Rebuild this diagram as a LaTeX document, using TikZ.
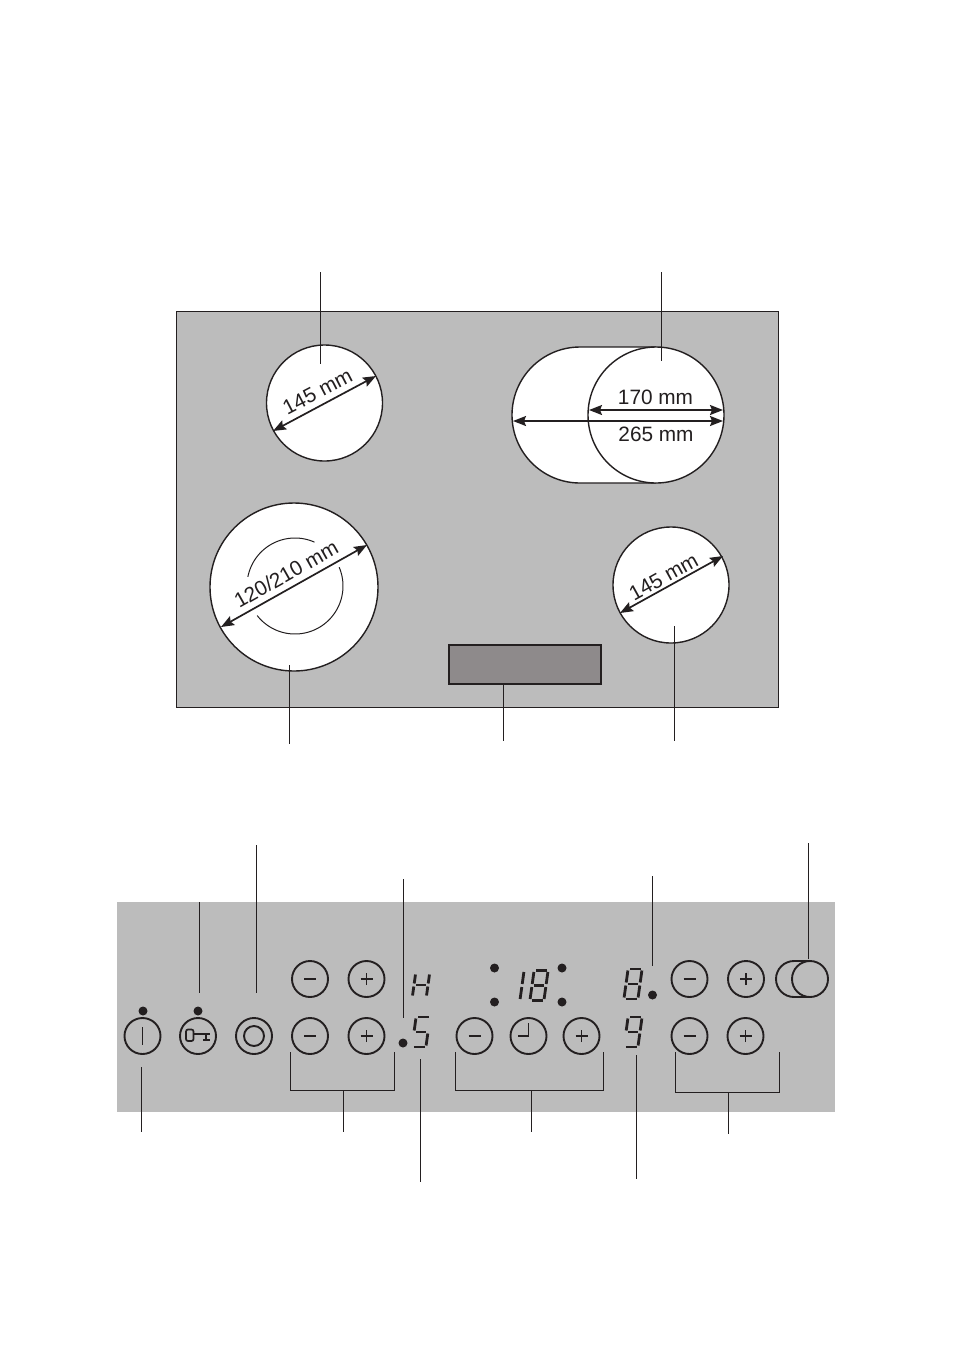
\documentclass[tikz,border=0pt]{standalone}
\usepackage{fontspec}
\setmainfont{Liberation Sans}
\usetikzlibrary{arrows.meta}
\definecolor{panel}{HTML}{BCBCBC}
\definecolor{ink}{HTML}{231F20}
\definecolor{window}{HTML}{8E8A8B}
\tikzset{
  lead/.style={draw=ink,line width=1.15pt},
  zone/.style={draw=ink,line width=1.4pt,fill=white},
  dim/.style={draw=ink,line width=1.7pt,{Stealth[length=13pt,width=10pt,inset=2pt]}-{Stealth[length=13pt,width=10pt,inset=2pt]}},
  dimtext/.style={inner sep=0pt,text=ink,font=\fontsize{20.8pt}{22pt}\selectfont},
  btn/.style={circle,draw=ink,line width=1.9pt,minimum size=36pt,inner sep=0pt},
  glyph/.style={draw=ink,line width=1.9pt},
  seg/.style={draw=ink,line width=2.8pt},
  lamp/.style={circle,fill=ink,minimum size=9pt,inner sep=0pt}
}
% cx, cy, half height, segments
\newcommand{\sevenseg}[4]{%
  \begin{scope}[shift={(#1,#2)},xslant=0.14]
    \def\hh{#3}
    \foreach \s in {#4}{%
      \if\s a\draw[seg] (-5,-\hh) -- (6,-\hh);\fi
      \if\s b\draw[seg] (7,-\hh+1.5) -- (7,-1.5);\fi
      \if\s c\draw[seg] (7,1.5) -- (7,\hh-1.5);\fi
      \if\s d\draw[seg] (-5,\hh) -- (6,\hh);\fi
      \if\s e\draw[seg] (-7,1.5) -- (-7,\hh-1.5);\fi
      \if\s f\draw[seg] (-7,-\hh+1.5) -- (-7,-1.5);\fi
      \if\s g\draw[seg] (-5,0) -- (5,0);\fi
    }
  \end{scope}}
\begin{document}
\begin{tikzpicture}[x=1pt,y=-1pt]
\useasboundingbox (0,0) rectangle (954,1350);
\fill[white] (0,0) rectangle (954,1350);
% hob
\draw[draw=ink,line width=0.9pt,fill=panel] (176,311) rectangle (778,707);
\node[draw=ink,line width=1.3pt,fill=window,minimum width=152pt,minimum height=39pt,inner sep=0pt] (win) at (525,664.5) {};
% zones
\node[zone,circle,minimum size=116pt,inner sep=0pt] (tl) at (324.5,403) {};
\draw[zone] (656,347) -- (580,347) arc[start angle=90,end angle=270,x radius=68,y radius=-68] -- (656,483);
\node[zone,circle,minimum size=136pt,inner sep=0pt] (tr) at (656,415) {};
\node[zone,circle,minimum size=168pt,inner sep=0pt] (bl) at (294,587) {};
\node[zone,circle,minimum size=116pt,inner sep=0pt] (br) at (671,585) {};
% inner arcs of the dual zone
\draw[draw=ink,line width=1pt] plot[domain=66:169,samples=40] ({295+48*cos(\x)},{586-48*sin(\x)});
\draw[draw=ink,line width=1pt] plot[domain=-142:23,samples=60] ({295+48*cos(\x)},{586-48*sin(\x)});
% dimension arrows
\coordinate (tlA) at (273,431); \coordinate (tlB) at (376,376);
\draw[dim] (tlA) -- (tlB);
\node[dimtext,rotate=27.5] (tlT) at (317.5,392) {145 mm};
\coordinate (blA) at (221,627); \coordinate (blB) at (367,545);
\draw[dim] (blA) -- (blB);
\node[dimtext,rotate=29.5] (blT) at (286,574) {120/210 mm};
\coordinate (brA) at (620,613); \coordinate (brB) at (723,556);
\draw[dim] (brA) -- (brB);
\node[dimtext,rotate=29] (brT) at (663.5,577) {145 mm};
\coordinate (trA) at (589,410); \coordinate (trB) at (723,410);
\draw[dim] (trA) -- (trB);
\coordinate (trC) at (513,421); \coordinate (trD) at (723,421);
\draw[dim] (trC) -- (trD);
\node[dimtext] (t170) at (655.5,397) {170 mm};
\node[dimtext] (t265) at (656,434.5) {265 mm};
% hob leaders
\coordinate (l1a) at (320.5,272); \coordinate (l1b) at (320.5,364); \draw[lead] (l1a) -- (l1b);
\coordinate (l2a) at (661.5,272); \coordinate (l2b) at (661.5,361); \draw[lead] (l2a) -- (l2b);
\coordinate (l3a) at (289.5,665); \coordinate (l3b) at (289.5,744); \draw[lead] (l3a) -- (l3b);
\coordinate (l4a) at (503.5,684); \coordinate (l4b) at (503.5,741); \draw[lead] (l4a) -- (l4b);
\coordinate (l5a) at (674.5,626); \coordinate (l5b) at (674.5,741); \draw[lead] (l5a) -- (l5b);
% control panel
\fill[panel] (117,902) rectangle (835,1112);
% buttons
\node[btn] (m1) at (310,979) {};
\node[btn] (p1) at (366.5,979) {};
\node[btn] (m2) at (689.5,979) {};
\node[btn] (p2) at (746,979) {};
\node[btn] (pow) at (142.5,1036) {};
\node[btn] (key) at (198,1036) {};
\node[btn] (ring) at (254,1036) {};
\node[btn] (m3) at (310,1036) {};
\node[btn] (p3) at (366.5,1036) {};
\node[btn] (m4) at (474.5,1036) {};
\node[btn] (clk) at (528.5,1036) {};
\node[btn] (p4) at (581.5,1036) {};
\node[btn] (m5) at (689.5,1036) {};
\node[btn] (p5) at (745.5,1036) {};
% glyphs
\foreach \n in {m1,m2,m3,m4,m5,p1,p2,p3,p4,p5}{\draw[glyph] ([xshift=-6pt]\n.center) -- ([xshift=6pt]\n.center);}
\foreach \n in {p1,p2,p3,p4,p5}{\draw[glyph] ([yshift=-6pt]\n.center) -- ([yshift=6pt]\n.center);}
\draw[glyph] ([yshift=9pt]pow.center) -- ([yshift=-9pt]pow.center);
\node[circle,draw=ink,line width=1.9pt,minimum size=20pt,inner sep=0pt] (ringin) at (ring.center) {};
\draw[glyph] (clk.center) -- ++(0,-13) (clk.center) -- ++(-11,0);
\draw[draw=ink,line width=1.7pt,rounded corners=2pt] (186,1029.5) rectangle (193.5,1041);
\draw[draw=ink,line width=1.7pt] (193.5,1034) -- (210,1034) (206,1034) -- (206,1040) (203,1040) -- (210,1040);
% toggle
\draw[draw=ink,line width=1.9pt] (810,961) -- (794,961) arc[start angle=90,end angle=270,x radius=18,y radius=-18] -- (810,997);
\node[btn] (tog) at (810,979) {};
% lamps
\node[lamp] (d1) at (143,1011) {};
\node[lamp] (d2) at (198,1011) {};
\node[lamp] (d3) at (403,1043) {};
\node[lamp] (d4) at (494.5,968) {};
\node[lamp] (d5) at (562,968) {};
\node[lamp] (d6) at (494.5,1002) {};
\node[lamp] (d7) at (562,1002) {};
\node[lamp] (d8) at (652.5,995) {};
% displays
\sevenseg{421}{985}{12}{b,c,e,f,g}
\sevenseg{421}{1032}{15}{a,f,g,c,d}
\sevenseg{633}{984}{15}{a,b,c,d,e,f,g}
\sevenseg{633}{1032}{15}{a,b,c,d,f,g}
\sevenseg{539}{985.5}{15}{a,b,c,d,e,f,g}
\sevenseg{515}{985.5}{15}{b,c}
% panel leaders
\coordinate (u1a) at (199.5,902); \coordinate (u1b) at (199.5,993); \draw[lead] (u1a) -- (u1b);
\coordinate (u2a) at (256.5,845); \coordinate (u2b) at (256.5,993); \draw[lead] (u2a) -- (u2b);
\coordinate (u3a) at (403.5,879); \coordinate (u3b) at (403.5,1018); \draw[lead] (u3a) -- (u3b);
\coordinate (u4a) at (652.5,876); \coordinate (u4b) at (652.5,966); \draw[lead] (u4a) -- (u4b);
\coordinate (u5a) at (808.5,843); \coordinate (u5b) at (808.5,959); \draw[lead] (u5a) -- (u5b);
\coordinate (v1a) at (141.5,1067); \coordinate (v1b) at (141.5,1132); \draw[lead] (v1a) -- (v1b);
\coordinate (v2a) at (420.5,1059); \coordinate (v2b) at (420.5,1182); \draw[lead] (v2a) -- (v2b);
\coordinate (v3a) at (636.5,1055); \coordinate (v3b) at (636.5,1179); \draw[lead] (v3a) -- (v3b);
% brackets
\coordinate (b1a) at (290.5,1052); \coordinate (b1b) at (394.5,1052); \coordinate (b1s) at (343.5,1090.5); \coordinate (b1e) at (343.5,1132);
\draw[lead] (b1a) |- (b1s) -| (b1b); \draw[lead] (b1s) -- (b1e);
\coordinate (b2a) at (455.5,1052); \coordinate (b2b) at (603.5,1052); \coordinate (b2s) at (531.5,1090.5); \coordinate (b2e) at (531.5,1132);
\draw[lead] (b2a) |- (b2s) -| (b2b); \draw[lead] (b2s) -- (b2e);
\coordinate (b3a) at (675.5,1052); \coordinate (b3b) at (779.5,1052); \coordinate (b3s) at (728.5,1092.5); \coordinate (b3e) at (728.5,1134);
\draw[lead] (b3a) |- (b3s) -| (b3b); \draw[lead] (b3s) -- (b3e);
\end{tikzpicture}
\end{document}
